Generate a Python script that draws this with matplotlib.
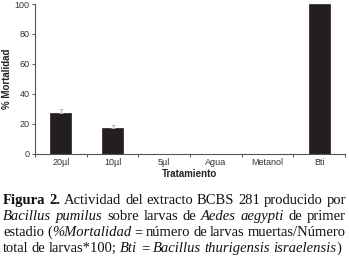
import matplotlib
matplotlib.use("Agg")
import matplotlib.pyplot as plt
import numpy as np

categories = ["20µl", "10µl", "5µl", "Agua", "Metanol", "Bti"]
mortality = [27, 17, 0, 0, 0, 100]
errors = [3, 2, 0, 0, 0, 0]
yticks = [0, 20, 40, 60, 80, 100]

W, H = 349, 270
fig = plt.figure(figsize=(W / 100, H / 100), dpi=100)
fig.patch.set_facecolor("white")
ax = fig.add_axes([35 / W, 1 - 153.7 / H, (345 - 35) / W, (153.7 - 4) / H])

x = np.arange(len(categories))
ax.bar(x, mortality, width=0.41, color="#231f20", edgecolor="#231f20", linewidth=0.5, zorder=2)
for xi, m, e in zip(x, mortality, errors):
    if e > 0:
        ax.errorbar([xi], [m], yerr=[[0], [e]], fmt="none", ecolor="#b5b5b5",
                    elinewidth=0.8, capsize=1.5, capthick=0.7, zorder=3)

ax.set_xlim(-0.5, len(categories) - 0.5)
ax.set_ylim(0, 100)
ax.set_yticks(yticks)
ax.set_xticks(x)
ax.set_xticklabels(categories)
ax.set_xticks(np.arange(-0.5, len(categories)), minor=True)
ax.tick_params(axis="x", which="major", length=0, pad=3, labelsize=6.5, labelcolor="#333333",
               labelfontfamily="Liberation Sans")
ax.tick_params(axis="x", which="minor", length=2.5, width=0.7, color="#555555", direction="out")
ax.tick_params(axis="y", length=2.5, width=0.7, color="#555555", pad=1.5, labelsize=6.5,
               labelcolor="#333333", labelfontfamily="Liberation Sans")
for s in ["top", "right"]:
    ax.spines[s].set_visible(False)
for s in ["left", "bottom"]:
    ax.spines[s].set_color("#555555")
    ax.spines[s].set_linewidth(0.8)

ax.set_ylabel("% Mortalidad", fontsize=7, fontweight="bold", family="Liberation Sans",
              color="#222222", labelpad=1.5)
ax.set_xlabel("Tratamiento", fontsize=7, fontweight="bold", family="Liberation Sans",
              color="#222222", labelpad=1.5)

# Caption with justified lines
R, B, I = "normal", "bold", "italic"
lines = [
    [[("Figura", B)], [("2.", B)], [("Actividad", R)], [("del", R)], [("extracto", R)],
     [("BCBS", R)], [("281", R)], [("producido", R)], [("por", R)]],
    [[("Bacillus", I)], [("pumilus", I)], [("sobre", R)], [("larvas", R)], [("de", R)],
     [("Aedes", I)], [("aegypti", I)], [("de", R)], [("primer", R)]],
    [[("estadio", R)], [("(", R), ("%Mortalidad", I)], [("=", R)], [("número", R)],
     [("de", R)], [("larvas", R)], [("muertas/Número", R)]],
    [[("total", R)], [("de", R)], [("larvas*100;", R)], [("Bti", I)], [("=", R)],
     [("Bacillus", I)], [("thurigensis", I)], [("israelensis", I), (")", R)]],
]
baselines = [204, 220, 236, 252]
xleft, xright = [3, 3, 3, 3], [346, 346, 346, 341]
renderer = fig.canvas.get_renderer()


def make(txt, style, xpx, ypx, fs):
    kw = dict(fontsize=fs, family="Liberation Serif", color="#111111", va="baseline", ha="left")
    if style == B:
        kw["fontweight"] = "bold"
    if style == I:
        kw["fontstyle"] = "italic"
    return fig.text(xpx / W, 1 - ypx / H, txt, **kw)


def word_widths(words, fs):
    out = []
    for w in words:
        tot = 0
        for txt, st in w:
            t = make(txt, st, 0, 0, fs)
            tot += t.get_window_extent(renderer).width
            t.remove()
        out.append(tot)
    return out


# choose font size so the tightest line (line 3) has ~3px gaps
ref = word_widths(lines[2], 10)
fs = 10 * (xright[2] - xleft[2] - 3.0 * (len(lines[2]) - 1)) / sum(ref)

for words, yb, xl, xr in zip(lines, baselines, xleft, xright):
    widths = word_widths(words, fs)
    gap = (xr - xl - sum(widths)) / (len(words) - 1)
    cx = xl
    for w, wd in zip(words, widths):
        px = cx
        for txt, st in w:
            t = make(txt, st, px, yb, fs)
            px += t.get_window_extent(renderer).width
        cx += wd + gap

fig.savefig("out.png", dpi=100)
